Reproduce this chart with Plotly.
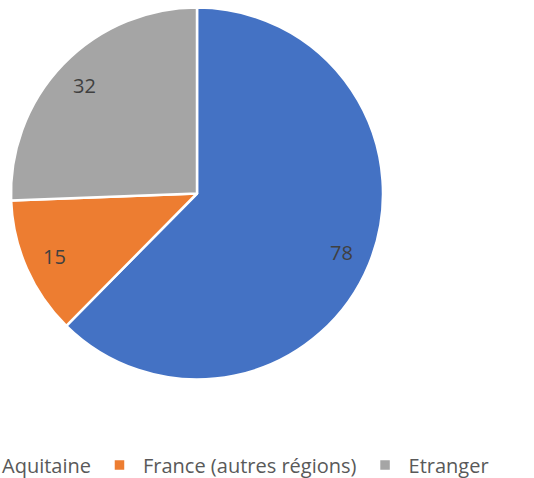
import math
import plotly.graph_objects as go

categories = ["Aquitaine", "France (autres régions)", "Etranger"]
values = [78, 15, 32]
colors = ["#4472C4", "#ED7D31", "#A5A5A5"]

W, H = 534, 478
MB = 40                      # bottom margin (legend lives below plot area)
PH = H - MB                  # plot-area height
cx, cy, r = 197, 193.5, 186  # pie centre / radius in pixels (from top-left)
label_k = 0.84               # label radius as a fraction of pie radius
ITEMW = 37                   # legend symbol column width
TEXTGAP = ITEMW + 10

fig = go.Figure(go.Pie(
    labels=categories,
    values=values,
    sort=False,
    direction="clockwise",
    rotation=0,
    marker=dict(colors=colors, line=dict(color="white", width=2.5)),
    textinfo="none",
    domain=dict(x=[(cx - r) / W, (cx + r) / W],
                y=[(PH - cy - r) / PH, (PH - cy + r) / PH]),
    hoverinfo="label+value",
))

# data labels placed on each slice's bisector, derived from the values
total = sum(values)
cum = 0
for v in values:
    mid = (cum + v / 2) / total * 2 * math.pi
    cum += v
    px = cx + label_k * r * math.sin(mid)
    py = cy - label_k * r * math.cos(mid)
    fig.add_annotation(
        x=px / W, y=1 - py / PH, xref="paper", yref="paper",
        xanchor="center", yanchor="middle",
        text=str(v), showarrow=False,
        font=dict(family="Open Sans", size=20, color="#404040"),
    )

fig.update_layout(
    width=W, height=H,
    margin=dict(l=0, r=0, t=0, b=MB, autoexpand=False),
    paper_bgcolor="white",
    showlegend=True,
    legend=dict(
        orientation="h",
        itemwidth=ITEMW,
        x=(2 - TEXTGAP) / W, xanchor="left",
        y=-(465 - PH) / PH, yanchor="middle",
        font=dict(family="Open Sans", size=20, color="#595959"),
        bgcolor="rgba(0,0,0,0)",
    ),
    font=dict(family="Open Sans"),
)

fig.write_html("out.html", config={"displayModeBar": False},
               post_script="document.body.style.margin='0';")
